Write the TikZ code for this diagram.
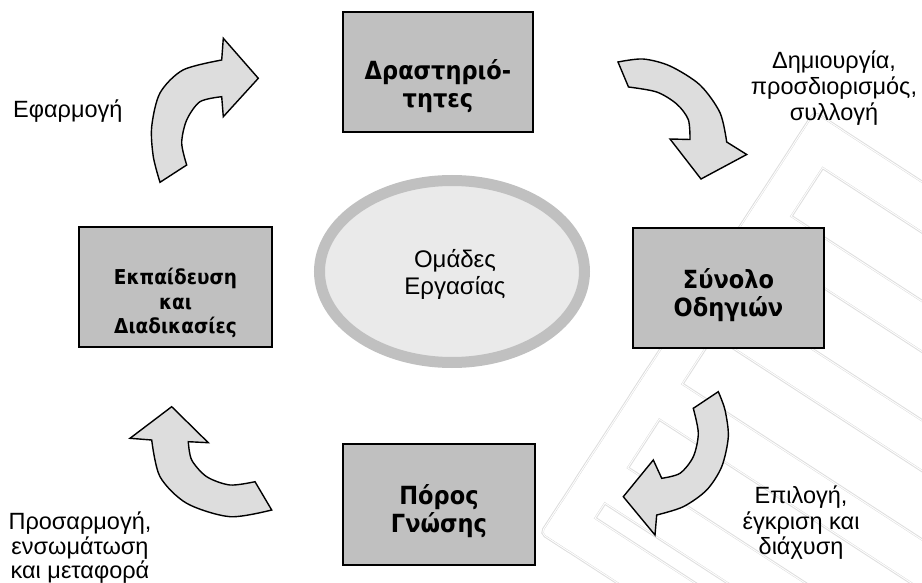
\documentclass[tikz,border=0pt]{standalone}
\usepackage{fontspec}
\setmainfont{Liberation Sans}
\newfontfamily\boxfont[FakeStretch=0.9]{DejaVu Sans}
\definecolor{boxgray}{RGB}{192,192,192}
\definecolor{arrowgray}{RGB}{221,221,221}
\definecolor{ringgray}{RGB}{192,192,192}
\definecolor{corefill}{RGB}{234,234,234}
\definecolor{markgray}{RGB}{222,222,222}
\usetikzlibrary{shapes.geometric}
\tikzset{
  stepbox/.style={draw=black, line width=2pt, fill=boxgray, rectangle, inner sep=0pt},
  boxtext/.style={font=\boxfont\bfseries\fontsize{25}{28}\selectfont, align=center, inner sep=0pt},
  smallboxtext/.style={font=\boxfont\bfseries\fontsize{20.5}{24.5}\selectfont, align=center, inner sep=0pt},
  labeltext/.style={font=\fontsize{23.5}{25.5}\selectfont, align=center, inner sep=0pt},
  cyclearrow/.style={draw=black, line width=1.4pt, fill=arrowgray, line join=miter},
}
% the comb-shaped logo parts, in a frame turned along the logo's arms
\newcommand\logoparts[1]{%
  \path[#1, rounded corners=4pt] (-110,-270) rectangle (-75,230);
  \foreach \b in {-270,-170,-70,30,130,190} {
    \path[#1, rounded corners=4pt] (-110,\b) rectangle (430,\b+40);
  }
}
\begin{document}
\begin{tikzpicture}[x=1pt,y=-1pt]
\useasboundingbox (0,0) rectangle (922,583);

% faint logo in the lower right background, outlined with a double line
\begin{scope}
  \clip (0,0) rectangle (922,583);
  \begin{scope}[shift={(760,400)}, rotate=-33]
    \logoparts{fill=markgray, draw=markgray, line width=5pt}
    \logoparts{fill=white, draw=white, line width=3pt}
    \logoparts{fill=markgray, draw=markgray, line width=1pt}
    \logoparts{fill=white}
  \end{scope}
\end{scope}

% centre ellipse
\node[ellipse, draw=ringgray, line width=11pt, fill=corefill,
      minimum width=265pt, minimum height=182pt, inner sep=0pt] (core) at (452,271.5) {};
\node[labeltext, font=\fontsize{24}{27}\selectfont] (coreT) at (455,274) {Ομάδες\\Εργασίας};

% the four stages
\node[stepbox, minimum width=190pt, minimum height=120pt] (act) at (438,72) {};
\node[boxtext] (actT) at (438,86) {Δραστηριό-\\τητες};

\node[stepbox, minimum width=191pt, minimum height=120pt] (guide) at (728.5,288) {};
\node[boxtext] (guideT) at (728.5,295) {Σύνολο\\Οδηγιών};

\node[stepbox, minimum width=192pt, minimum height=121pt] (know) at (439,504) {};
\node[boxtext] (knowT) at (439,511) {Πόρος\\Γνώσης};

\node[stepbox, minimum width=193pt, minimum height=120pt] (train) at (175.5,287) {};
\node[smallboxtext] (trainT) at (175.5,303) {Εκπαίδευση\\και\\Διαδικασίες};

% curved arrows between the stages
\draw[cyclearrow] plot[smooth] coordinates {(160,182.3) (153.3,156.7) (151.7,126.7) (160,93) (183,70) (221.7,60)}
  -- (223.3,38.3) -- (258.3,78.3) -- (223.3,116.7)
  -- plot[smooth] coordinates {(221.7,96.7) (200,101.7) (186.7,120) (181.7,143) (186.7,165)} -- cycle;

\draw[cyclearrow] plot[smooth] coordinates {(618,62) (643,59) (670,66) (700,85) (720,112.7) (726.7,142)}
  -- (746.7,154.5) -- (701,179) -- (670,139)
  -- plot[smooth] coordinates {(690,139.5) (688.3,119.6) (676.7,104) (656.7,92) (628.5,87)} -- cycle;

\draw[cyclearrow] plot[smooth] coordinates {(718.3,391.7) (725,410) (728.3,436.7) (721.7,466.7) (706.7,490) (683.3,506.7) (656.7,515)}
  -- (655,535) -- (623.3,496.7) -- (653.3,460)
  -- plot[smooth] coordinates {(661.7,478.3) (680,473.3) (693.3,456.7) (698.3,433.3) (693.3,408.3)} -- cycle;

\draw[cyclearrow] plot[smooth] coordinates {(271.7,510) (230,516.7) (186.7,503.3) (160,476.7) (151.7,440)}
  -- (130,438.3) -- (171.7,406.7) -- (208.3,442.7)
  -- plot[smooth] coordinates {(188.3,441.7) (191.7,460) (206.7,476.7) (230,485) (255,481.7)} -- cycle;

% arrow captions
\node[labeltext, anchor=west] (apply) at (13,111) {Εφαρμογή};
\node[labeltext, font=\fontsize{23.5}{26}\selectfont] (create) at (834,88.5) {Δημιουργία,\\προσδιορισμός,\\συλλογή};
\node[labeltext] (select) at (801,523) {Επιλογή,\\έγκριση και\\διάχυση};
\node[labeltext, font=\fontsize{23.5}{24.5}\selectfont] (adapt) at (80,548) {Προσαρμογή,\\ενσωμάτωση\\και μεταφορά};
\end{tikzpicture}
\end{document}
